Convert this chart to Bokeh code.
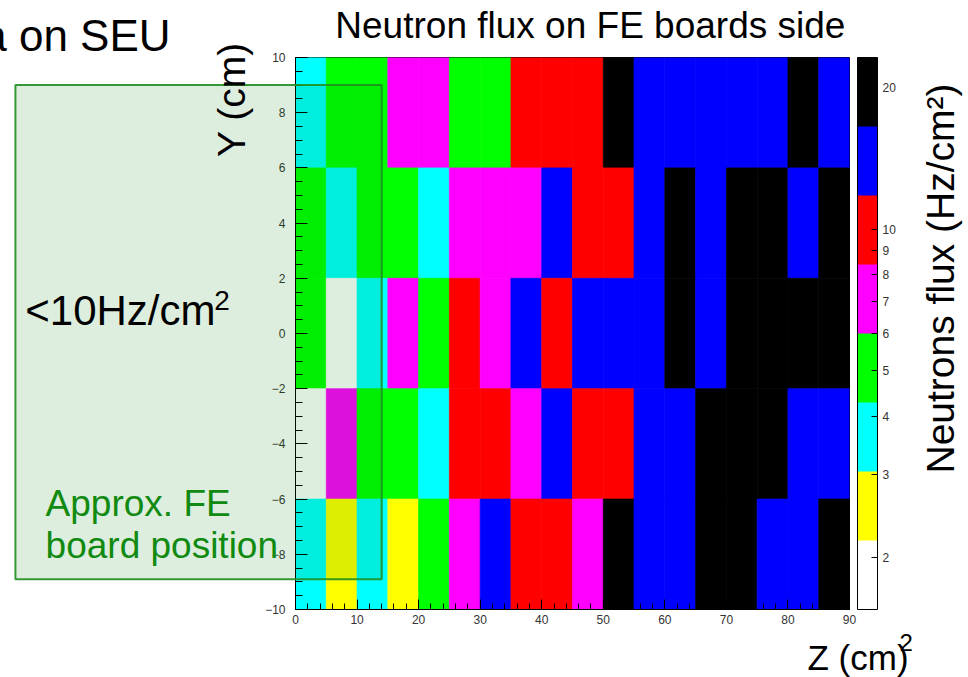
import numpy as np
from bokeh.plotting import figure
from bokeh.models import (LogColorMapper, ColorBar, FixedTicker, Range1d, ColumnDataSource)
from bokeh.core.properties import value
from bokeh.embed import file_html
from bokeh.resources import INLINE

# ---------------- data ----------------
z_edges = [0, 5, 10, 15, 20, 25, 30, 35, 40, 45, 50, 55, 60, 65, 70, 75, 80, 85, 90]
y_edges = [10, 6, 2, -2, -6, -10]   # rows listed from top to bottom

flux_y8 = [3.6, 5.0, 5.0, 7.0, 7.0, 5.0, 5.0, 10.0, 10.0, 10.0, 20.0, 14.0, 14.0, 14.0, 14.0, 14.0, 20.0, 14.0]
flux_y4 = [5.0, 3.6, 5.0, 5.0, 3.6, 7.0, 7.0, 7.0, 14.0, 10.0, 10.0, 14.0, 20.0, 14.0, 20.0, 20.0, 14.0, 20.0]
flux_y0 = [5.0, 1.9, 3.6, 7.0, 5.0, 10.0, 7.0, 14.0, 10.0, 14.0, 14.0, 14.0, 20.0, 14.0, 20.0, 20.0, 20.0, 20.0]
flux_ym4 = [1.9, 7.0, 5.0, 5.0, 3.6, 10.0, 10.0, 7.0, 14.0, 10.0, 10.0, 14.0, 14.0, 20.0, 20.0, 20.0, 14.0, 14.0]
flux_ym8 = [3.6, 2.6, 3.6, 2.6, 5.0, 7.0, 14.0, 10.0, 10.0, 7.0, 20.0, 14.0, 14.0, 20.0, 20.0, 14.0, 14.0, 20.0]
flux_rows = [flux_y8, flux_y4, flux_y0, flux_ym4, flux_ym8]

palette = ["#ffffff", "#ffff00", "#00ffff", "#00ff00", "#ff00ff", "#ff0000", "#0000ff", "#000000"]
z_low, z_high = 1.55, 23.2
cbar_ticks = [2, 3, 4, 5, 6, 7, 8, 9, 10, 20]

x_ticks = [0, 10, 20, 30, 40, 50, 60, 70, 80, 90]
y_ticks = [-10, -8, -6, -4, -2, 0, 2, 4, 6, 8, 10]

# ---------------- build table ----------------
left, right, top, bottom, flux = [], [], [], [], []
for r, row in enumerate(flux_rows):
    for i, v in enumerate(row):
        left.append(z_edges[i]); right.append(z_edges[i + 1])
        top.append(y_edges[r]); bottom.append(y_edges[r + 1])
        flux.append(v)
src = ColumnDataSource(dict(left=left, right=right, top=top, bottom=bottom, flux=flux))

mapper = LogColorMapper(palette=palette, low=z_low, high=z_high)

FONT = "Liberation Sans"

p = figure(frame_width=554, frame_height=552,
           x_range=Range1d(0, 90), y_range=Range1d(-10, 10),
           output_backend="svg", toolbar_location=None,
           min_border_left=295, min_border_right=119,
           min_border_top=57, min_border_bottom=68)
p.xgrid.visible = False
p.ygrid.visible = False
p.outline_line_color = "black"
p.outline_line_width = 1
p.background_fill_color = "white"
p.border_fill_color = "white"

cmap = {"field": "flux", "transform": mapper}
p.quad(left="left", right="right", top="top", bottom="bottom", source=src,
       fill_color=cmap, line_color=cmap, line_width=0.7)

# axes
p.xaxis.ticker = FixedTicker(ticks=x_ticks, minor_ticks=list(range(0, 91, 2)))
p.yaxis.ticker = FixedTicker(ticks=y_ticks, minor_ticks=[v / 2 for v in range(-20, 21)])
p.yaxis.major_label_overrides = {t: (str(t).replace("-", "\u2212")) for t in y_ticks}
for ax in (p.xaxis[0], p.yaxis[0]):
    ax.major_tick_out = 0
    ax.minor_tick_out = 0
    ax.axis_line_color = "black"
    ax.major_tick_line_color = "black"
    ax.minor_tick_line_color = "black"
    ax.major_label_text_font = FONT
    ax.major_label_text_font_size = "12px"
    ax.major_label_text_color = "#333333"
p.xaxis.major_tick_in = 10
p.xaxis.minor_tick_in = 6
p.xaxis.major_label_standoff = 5
p.yaxis.major_tick_in = 12
p.yaxis.minor_tick_in = 7
p.yaxis.major_label_standoff = 10

# colour bar
cb = ColorBar(color_mapper=mapper, ticker=FixedTicker(ticks=cbar_ticks, minor_ticks=[]),
              width=20, height=552, margin=0, padding=0, location=(8, 0),
              bar_line_color="black", bar_line_width=1,
              major_tick_in=6, major_tick_out=0, major_tick_line_color="black",
              label_standoff=5,
              major_label_text_font=FONT, major_label_text_font_size="12px",
              major_label_text_color="#333333",
              background_fill_color=None, border_line_color=None)
p.add_layout(cb, "right")

# green overlay box (drawn above everything, not clipped to the frame)
p.quad(left=[-45.5], right=[14.0], top=[9.0], bottom=[-8.9],
       fill_color="#007a00", fill_alpha=0.13,
       line_color="#1f8f1f", line_width=2, line_alpha=0.9, level="overlay")

def lab(x, y, text, size, color="black", align="left", angle=0.0):
    p.text(x=[x], y=[y], text=[text], text_font=value(FONT), text_font_size=value(size),
           text_color=color, text_align=align, angle=angle, text_baseline="middle",
           level="overlay")

lab(47.9, 11.159, "Neutron flux on FE boards side", "37px", align="center")
lab(-20.3, 10.797, "a on SEU", "44px", align="right")
lab(-10.35, 8.478, "Y (cm)", "39px", align="center", angle=np.pi / 2)
lab(104.73, 1.993, "Neutrons flux (Hz/cm\u00b2)", "39px", align="center", angle=np.pi / 2)
lab(-43.9, 0.833, "<10Hz/cm", "42px")
lab(-13.2, 1.20, "2", "28px")
lab(-40.6, -6.159, "Approx. FE", "37px", color="#108a10")
lab(-40.6, -7.680, "board position", "37px", color="#108a10")
lab(83.18, -11.729, "Z (cm)", "35px")
lab(98.12, -11.181, "2", "24px")

open("out.html", "w").write(file_html(p, INLINE))
